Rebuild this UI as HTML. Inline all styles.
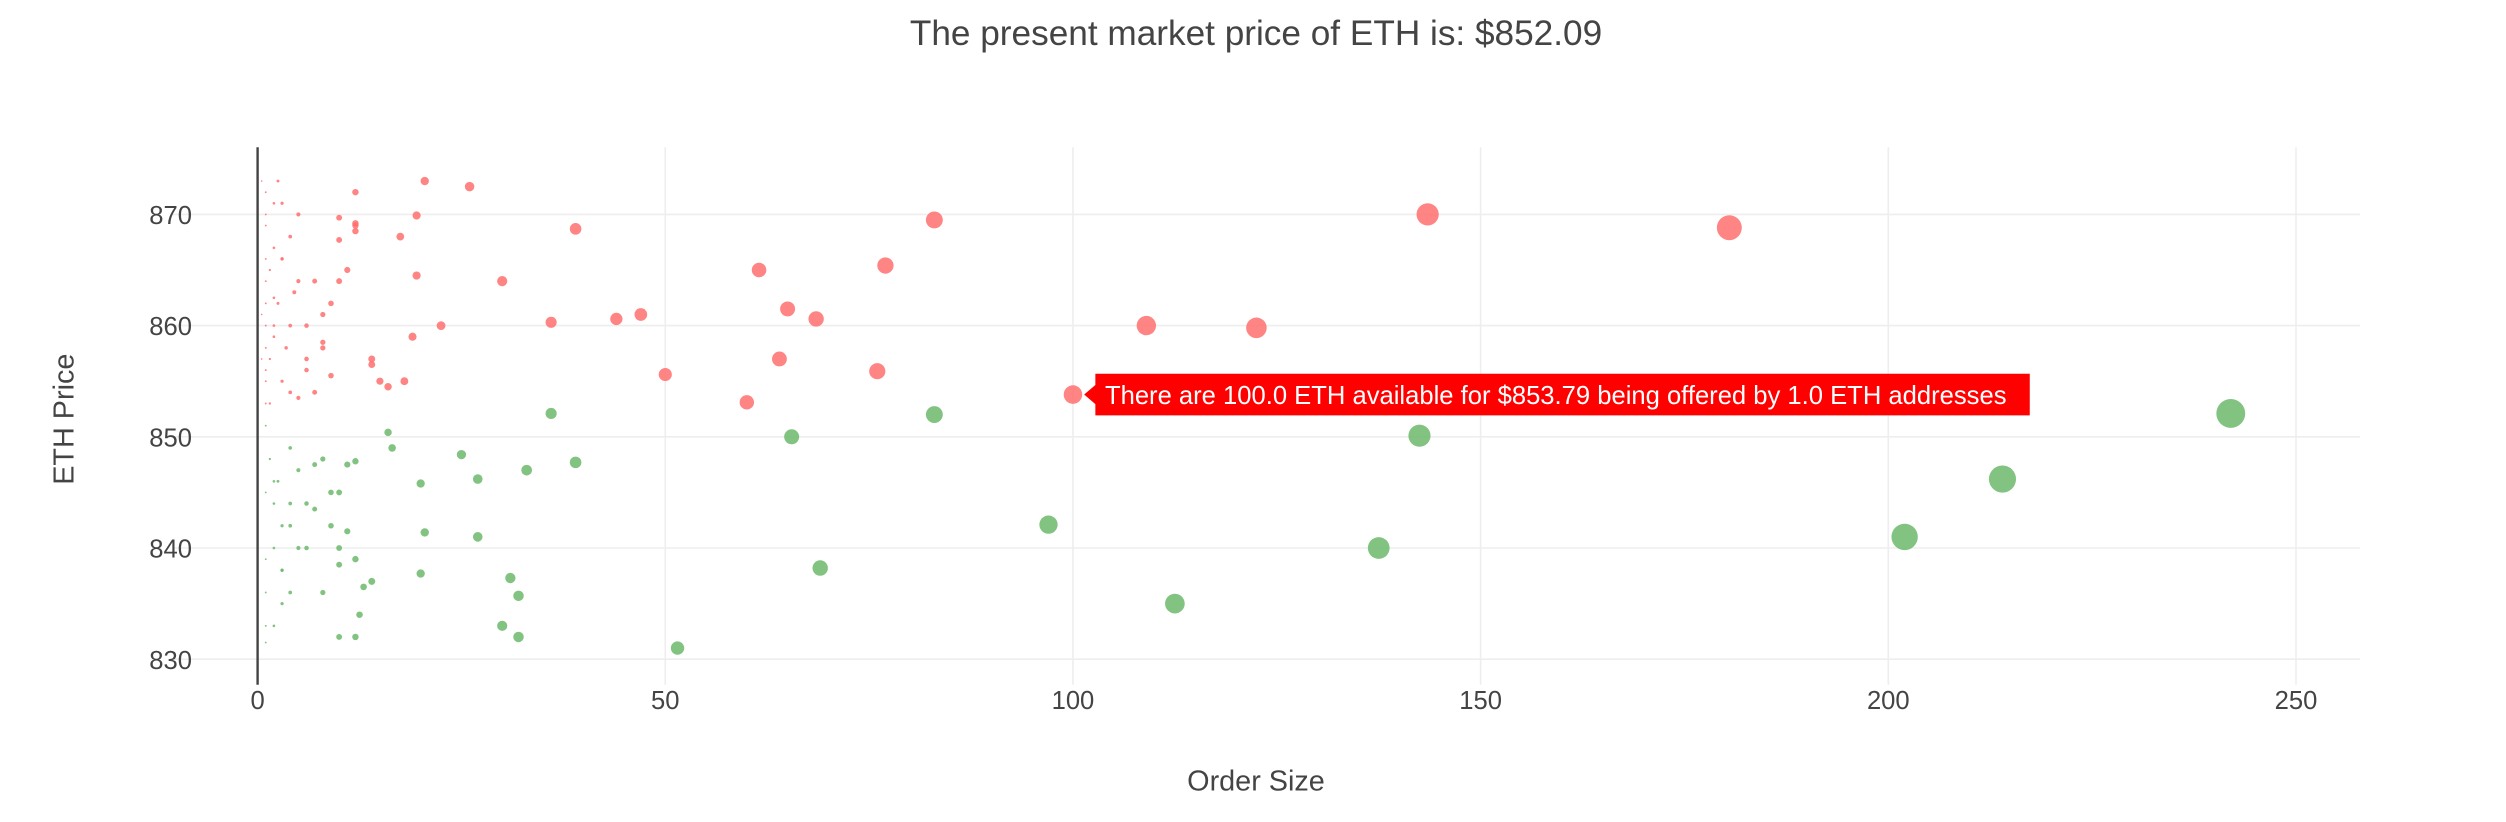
<!DOCTYPE html>
<html><head><meta charset="utf-8"><style>
body{margin:0;background:#fff;}
svg{display:block;font-family:"Liberation Sans",sans-serif;}
</style></head><body>
<svg id="chart" width="2506" height="822" viewBox="0 0 1566.25 513.75">
<text x="785" y="28" text-anchor="middle" font-size="22" fill="#444">The present market price of ETH is: $852.09</text>
<g id="grid"></g>
<g id="xticks"></g>
<g id="yticks"></g>
<g id="marks"></g>
<text x="785" y="494" text-anchor="middle" font-size="18" fill="#444">Order Size</text>
<text transform="translate(46,262) rotate(-90)" text-anchor="middle" font-size="18" fill="#444">ETH Price</text>
<g id="tip"></g>
</svg>
<script>
const xTicks=[0,50,100,150,200,250];
const yTicks=[830,840,850,860,870];
const askSize=[143.5,180.5,83,77,61.5,65,68.5,109,122.5,47,44,36,30,39,50,64,76,60,100,26,20.5,19.5,17.5,22.5,19,19.5,18,15,14,16,12,12,11,10,10,12,9,8,8,7,6,6,5,5,4.5,4,4,3.5,3,3,2.5,2.5,2,2,2,1.5,1.5,1.5,1,1,1,1,1,1,1,1,1,1,1,0.5,0.5,0.5,12,10,9,6,4,3,2,7,5,14,8,3,2];
const askPrice=[870,868.8,869.5,865.4,865,861.5,860.6,860,859.8,861,860.6,860.3,864,868.7,855.6,857,855.9,853.1,853.8,872.5,873,869.9,868,860,859,864.5,855,855,857,854.5,868.5,872,865,869.7,867.7,869,855.5,861,858,854,856,860,870,864,863,868,860,858,866,855,873,862,871,867,859,853,865,857,869,866,862,858,855,872,864,860,856,853,870,873,861,857,869.2,864,862,857,854,866,860,864,853.5,856.5,858.5,871,862.5];
const bidSize=[242,214,202,142.5,137.5,112.5,97,83,65.5,69,51.5,36,39,33,27,25,27,20.5,20,16,16.5,32,30,31,32,20,12,10,12.5,13,14,12,10,11,9,10,8,11,9,7,6,5,4,4,3,3,2.5,2,2,1.5,1,1,1,1,1,12,10,8,7,6,4,3,2,5,4,3,2,1];
const bidPrice=[852.1,846.2,841,850.1,840,835,842.1,852,850,838.2,831,852.1,847.7,847,846.2,848.4,841,841.4,845.8,850.4,849,832,833,837.3,835.7,837.7,832,832,834,836.5,837,839,840,841.5,842,838.5,836,847.5,845,847.5,844,847,849,842,835,838,846,840,844,848,851,845,839,833,836,847.8,845,848,843.5,840,836,838,833,840,844,842,846,831.5];
const X=v=>161+v*5.096, Y=v=>134+(870-v)*6.95;
const NS="http://www.w3.org/2000/svg";
function mk(tag,attrs,parent,txt){const e=document.createElementNS(NS,tag);for(const k in attrs)e.setAttribute(k,attrs[k]);if(txt!==undefined)e.textContent=txt;parent.appendChild(e);return e;}
const grid=document.getElementById('grid'),xt=document.getElementById('xticks'),yt=document.getElementById('yticks'),marks=document.getElementById('marks');
xTicks.forEach(t=>{
  if(t!==0){const l=mk('line',{x1:X(t),x2:X(t),y1:92,y2:428,stroke:'#eee','stroke-width':1},grid);
  
  }
  const tx=mk('text',{x:X(t),y:443,'text-anchor':'middle','font-size':16,fill:'#444'},xt,String(t));
  
  
});
yTicks.forEach(t=>{
  const l=mk('line',{x1:108,x2:1475,y1:Y(t),y2:Y(t),stroke:'#eee','stroke-width':1},grid);
  
  
  const tx=mk('text',{x:120,y:Y(t)+6,'text-anchor':'end','font-size':16,fill:'#444'},yt,String(t));
  
  
});
const zl=mk('line',{x1:X(0),x2:X(0),y1:92,y2:428,stroke:'#444','stroke-width':1.5},grid);


function dot(s,p,c,name){
  const r=Math.max(0.5,Math.sqrt(s)*0.58);
  const d=mk('circle',{cx:X(s),cy:Y(p),r:r,fill:c,'fill-opacity':0.85},marks);
  
  
}
bidSize.forEach((s,i)=>dot(s,bidPrice[i],'#6cb96c','bid-point'));
askSize.forEach((s,i)=>dot(s,askPrice[i],'#ff6e6e','ask-point'));
const tip=document.getElementById('tip');
const tx0=X(100)+14, ty0=Y(853.8);
mk('path',{d:`M${tx0-7},${ty0} L${tx0},${ty0-6} L${tx0},${ty0-13} L${tx0+584},${ty0-13} L${tx0+584},${ty0+13} L${tx0},${ty0+13} L${tx0},${ty0+6} Z`,fill:'#ff0000'},tip);
mk('text',{x:tx0+6,y:ty0+6,'font-size':16,fill:'#fff'},tip,'There are 100.0 ETH available for $853.79 being offered by 1.0 ETH addresses');
</script>
</body></html>
